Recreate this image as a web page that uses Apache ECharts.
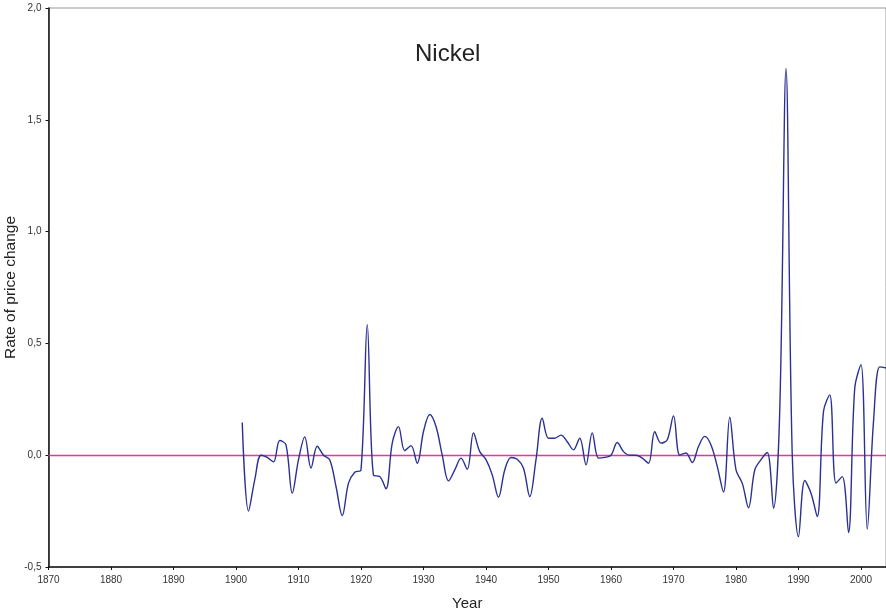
<!DOCTYPE html>
<html>
<head>
<meta charset="utf-8">
<script src="https://cdn.jsdelivr.net/npm/echarts@6/dist/echarts.min.js"></script>
<style>
html,body{margin:0;padding:0;background:#fff;}
#chart{width:886px;height:614px;}
</style>
</head>
<body>
<div id="chart"></div>
<script>
var years = [];
for (var y = 1901; y <= 2004; y++) years.push(y);
var rates = [
  0.146, -0.25, -0.11, 0.0, -0.01, -0.03, 0.066, 0.046, -0.17, -0.02,
  0.082, -0.058, 0.04, 0.0, -0.02, -0.14, -0.27, -0.125, -0.076, -0.066,
  0.584, -0.09, -0.095, -0.15, 0.054, 0.128, 0.02, 0.043, -0.036, 0.106,
  0.182, 0.128, 0.0, -0.115, -0.066, -0.013, -0.063, 0.099, 0.016, -0.02,
  -0.088, -0.188, -0.066, -0.01, -0.018, -0.058, -0.185, -0.02, 0.166, 0.076,
  0.076, 0.09, 0.06, 0.024, 0.076, -0.043, 0.10, -0.013, -0.01, 0.0,
  0.057, 0.016, 0.0, 0.0, -0.013, -0.036, 0.105, 0.054, 0.069, 0.176,
  0.0, 0.01, -0.033, 0.039, 0.084, 0.046, -0.05, -0.165, 0.17, -0.066,
  -0.125, -0.235, -0.066, -0.02, 0.012, -0.237, 0.2, 1.73, 0.0, -0.364,
  -0.113, -0.17, -0.275, 0.196, 0.27, -0.125, -0.096, -0.346, 0.3, 0.405,
  -0.33, 0.15, 0.395, 0.39
];
var yTicks = [-0.5, 0, 0.5, 1, 1.5, 2];
var xTicks = [1870, 1880, 1890, 1900, 1910, 1920, 1930, 1940, 1950, 1960, 1970, 1980, 1990, 2000];

var data = years.map(function (yr, i) { return [yr, rates[i]]; });
var FONT = 'Liberation Sans, Arial, Helvetica, sans-serif';

var chart = echarts.init(document.getElementById('chart'), null, {renderer: 'canvas'});
chart.setOption({
  animation: false,
  backgroundColor: '#ffffff',
  title: {
    text: 'Nickel',
    left: 410,
    top: 37,
    textStyle: {fontFamily: FONT, fontSize: 24, fontWeight: 'normal', color: '#222'}
  },
  grid: {
    left: 48.5, right: 0, top: 8, bottom: 47,
    containLabel: false,
    outerBoundsMode: 'none',
    show: true, borderColor: '#999', borderWidth: 1
  },
  xAxis: {
    type: 'value',
    min: 1870, max: 2004, interval: 10,
    name: 'Year',
    nameLocation: 'middle',
    nameGap: 29,
    nameMoveOverlap: false,
    nameTextStyle: {fontFamily: FONT, fontSize: 15, color: '#222'},
    axisLine: {show: true, onZero: false, lineStyle: {color: '#111', width: 1.5}},
    axisTick: {show: true, inside: false, length: 3, lineStyle: {color: '#111'}},
    axisLabel: {
      margin: 8, fontFamily: FONT, fontSize: 10, color: '#333',
      showMaxLabel: false,
      formatter: function (v) { return xTicks.indexOf(v) >= 0 ? String(v) : ''; }
    },
    splitLine: {show: false}
  },
  yAxis: {
    type: 'value',
    min: -0.5, max: 2, interval: 0.5,
    name: 'Rate of price change',
    nameLocation: 'middle',
    nameGap: 30,
    nameMoveOverlap: false,
    nameTextStyle: {fontFamily: FONT, fontSize: 15.5, color: '#222'},
    axisLine: {show: true, onZero: false, lineStyle: {color: '#111', width: 1.5}},
    axisTick: {show: true, inside: false, length: 3, lineStyle: {color: '#111'}},
    axisLabel: {
      margin: 7, fontFamily: FONT, fontSize: 10, color: '#333',
      formatter: function (v) { return yTicks.indexOf(v) >= 0 ? v.toFixed(1).replace('.', ',') : ''; }
    },
    splitLine: {show: false}
  },
  series: [{
    type: 'line',
    data: data,
    smooth: 0.35,
    showSymbol: false,
    symbol: 'none',
    lineStyle: {color: '#2a3193', width: 1.4},
    z: 3,
    markLine: {
      silent: true,
      symbol: 'none',
      label: {show: false},
      lineStyle: {color: '#e8359a', width: 1.3, type: 'solid'},
      data: [{yAxis: 0}],
      z: 2
    }
  }]
});
</script>
</body>
</html>
